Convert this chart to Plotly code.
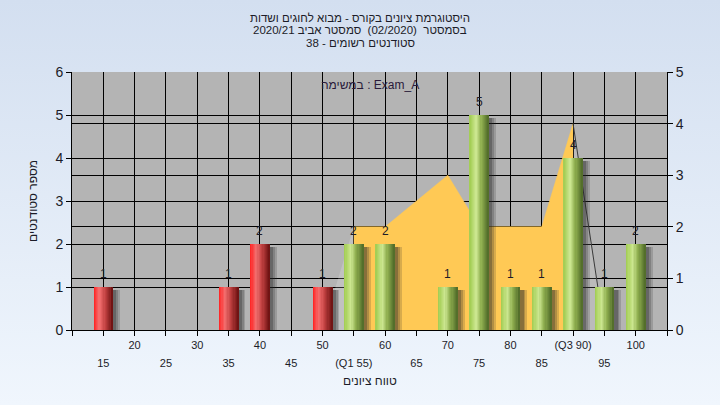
import base64
import plotly.graph_objects as go

# ---------------- data ----------------
categories = [15, 20, 25, 30, 35, 40, 45, 50, 55, 60, 65, 70, 75, 80, 85, 90, 95, 100]
tick_labels = ["15", "20", "25", "30", "35", "40", "45", "50", "(Q1 55)", "60",
               "65", "70", "75", "80", "85", "(Q3 90)", "95", "100"]
counts = [1, 0, 0, 0, 1, 2, 0, 1, 2, 2, 0, 1, 5, 1, 1, 4, 1, 2]
pass_mark = 55
# reference distribution (right axis); None = empty point
ref_area = [None, None, None, None, None, None, None, 0, 2, 2, 2.5, 3, 2, 2, 2, 4, 0, None]

title_lines = [
    "היסטוגרמת ציונים בקורס - מבוא לחוגים ושדות",
    "בסמסטר  (02/2020)  סמסטר אביב 2020/21",
    "סטודנטים רשומים - 38",
]
task_label = "במשימה : Exam_A"
x_title = "טווח ציונים"
y_title = "מספר סטודנטים"

# ---------------- styling ----------------
FONT = "Liberation Sans, DejaVu Sans, sans-serif"
TXT = "#1c1c28"
L, R, T, B = 72, 53, 72, 75
W, H = 720, 405
PW, PH = W - L - R, H - T - B
BAR_W = 3.1
N_STRIPS = 16
RED = [(0.0, (255, 32, 32)), (0.3, (244, 112, 112)), (0.6, (192, 64, 64)), (1.0, (106, 16, 16))]
GREEN = [(0.0, (160, 204, 80)), (0.35, (204, 230, 144)), (0.6, (144, 176, 80)), (1.0, (79, 106, 40))]


def grad(stops, t):
    for (t0, c0), (t1, c1) in zip(stops, stops[1:]):
        if t0 <= t <= t1:
            f = (t - t0) / (t1 - t0)
            c = [round(a + (b - a) * f) for a, b in zip(c0, c1)]
            return "rgb(%d,%d,%d)" % tuple(c)
    return "rgb(%d,%d,%d)" % stops[-1][1]


fig = go.Figure()

# ---- reference area (right axis, base layer) ----
idx = [i for i, v in enumerate(ref_area) if v is not None]
main_idx = [i for i in idx if ref_area[i] > 0]
fig.add_trace(go.Scatter(
    x=[categories[i] for i in main_idx], y=[ref_area[i] for i in main_idx],
    yaxis="y2", mode="lines", fill="tozeroy", fillcolor="#FFC955",
    line=dict(color="#FFC955", width=0.5), hoverinfo="skip", showlegend=False))
# empty-point segments at both ends
first, last = main_idx[0], main_idx[-1]
fig.add_trace(go.Scatter(
    x=[categories[first - 1], categories[first], categories[first]],
    y=[0, ref_area[first], 0], yaxis="y2", mode="lines", fill="toself",
    fillcolor="rgba(255,255,255,0.18)", line=dict(width=0), hoverinfo="skip", showlegend=False))
fig.add_trace(go.Scatter(
    x=[categories[last], categories[last + 1], categories[last]],
    y=[ref_area[last], 0, 0], yaxis="y2", mode="lines", fill="toself",
    fillcolor="rgba(255,255,255,0.10)", line=dict(width=0), hoverinfo="skip", showlegend=False))
fig.add_trace(go.Scatter(
    x=[categories[last], categories[last + 1]], y=[ref_area[last], 0], yaxis="y2",
    mode="lines", line=dict(color="#3a3a3a", width=1), hoverinfo="skip", showlegend=False))

# ---- bar shadows ----
for dx, a in [(1.15, 0.18), (0.85, 0.22), (0.55, 0.30)]:
    fig.add_trace(go.Bar(
        x=categories, y=[max(c - 0.06, 0) for c in counts], width=BAR_W, offset=-BAR_W / 2 + dx,
        marker=dict(color="rgba(40,40,40,%s)" % a, line=dict(width=0)),
        yaxis="y", hoverinfo="skip", showlegend=False))

# ---- bars in gradient strips ----
sw = BAR_W / N_STRIPS
for i in range(N_STRIPS):
    t = (i + 0.5) / N_STRIPS
    off = -BAR_W / 2 + i * sw
    wid = min(sw * 1.8, BAR_W / 2 - off)
    cols = [grad(RED if c < pass_mark else GREEN, t) for c in categories]
    fig.add_trace(go.Bar(
        x=categories, y=counts, width=wid, offset=off,
        marker=dict(color=cols, line=dict(width=0)),
        yaxis="y", hoverinfo="skip", showlegend=False))

# dummy trace for lower label row axis
fig.add_trace(go.Scatter(x=[None], y=[None], xaxis="x2", yaxis="y", showlegend=False))

annotations = []
for c, n in zip(categories, counts):
    if n > 0:
        annotations.append(dict(x=c, y=n, xref="x", yref="y", text=str(n), showarrow=False,
                                yshift=13, font=dict(family=FONT, size=12, color=TXT)))

# title lines (page centred)
for k, line in enumerate(title_lines):
    ypx = 18 + k * 12.5
    annotations.append(dict(x=(360 - L) / PW, y=(T + PH - ypx) / PH, xref="paper", yref="paper",
                            text=line, showarrow=False, xanchor="center", yanchor="middle",
                            font=dict(family=FONT, size=11.5, color=TXT)))
annotations.append(dict(x=0.5, y=(T + PH - 85) / PH, xref="paper", yref="paper", text=task_label,
                        showarrow=False, xanchor="center", yanchor="middle",
                        font=dict(family=FONT, size=12, color="#2a1a3a")))
annotations.append(dict(x=0.5, y=(T + PH - 381) / PH, xref="paper", yref="paper", text=x_title,
                        showarrow=False, xanchor="center", yanchor="middle",
                        font=dict(family=FONT, size=12, color=TXT)))
annotations.append(dict(x=(33 - L) / PW, y=0.5, xref="paper", yref="paper", text=y_title,
                        showarrow=False, textangle=-90, xanchor="center", yanchor="middle",
                        font=dict(family=FONT, size=12, color=TXT)))

# background gradient image (full page)
svg = ('<svg xmlns="http://www.w3.org/2000/svg" width="720" height="405">'
       '<defs><linearGradient id="g" x1="0" y1="0" x2="0" y2="1">'
       '<stop offset="0" stop-color="#d3dff0"/><stop offset="1" stop-color="#f0f6fd"/>'
       '</linearGradient></defs><rect width="720" height="405" fill="url(#g)"/></svg>')
bg_src = "data:image/svg+xml;base64," + base64.b64encode(svg.encode()).decode()

all_ticks = [10] + categories + [105]
upper_text = [""] + [tick_labels[i] if i % 2 == 1 else "" for i in range(len(categories))] + [""]
lower_vals = [c for i, c in enumerate(categories) if i % 2 == 0]
lower_text = [tick_labels[i] for i in range(len(categories)) if i % 2 == 0]

axis_common = dict(showline=True, linecolor="black", linewidth=1, ticks="outside", ticklen=5,
                   tickcolor="black", showgrid=True, gridcolor="black", gridwidth=1, zeroline=False)

fig.update_layout(
    width=W, height=H, margin=dict(l=L, r=R, t=T, b=B),
    paper_bgcolor="#e4edf8", plot_bgcolor="#b4b4b4",
    barmode="overlay", bargap=0, showlegend=False,
    xaxis=dict(range=[10, 105], tickvals=all_ticks, ticktext=upper_text, anchor="y2",
               tickfont=dict(family=FONT, size=11, color=TXT), **axis_common),
    xaxis2=dict(range=[10, 105], overlaying="x", side="bottom", anchor="y2", tickvals=lower_vals,
                ticktext=lower_text, ticks="", showgrid=False, showline=False, zeroline=False,
                ticklabelstandoff=25, tickfont=dict(family=FONT, size=11, color=TXT)),
    yaxis=dict(range=[0, 6], dtick=1, overlaying="y2", side="left",
               tickfont=dict(family=FONT, size=14, color=TXT), **axis_common),
    yaxis2=dict(range=[0, 5], dtick=1, side="right",
                tickfont=dict(family=FONT, size=14, color=TXT), **axis_common),
    annotations=annotations,
    images=[dict(source=bg_src, xref="paper", yref="paper", x=-L / PW, y=(T + PH) / PH,
                 sizex=W / PW, sizey=H / PH, sizing="stretch", xanchor="left", yanchor="top",
                 layer="below")],
    shapes=[dict(type="rect", xref="x domain", yref="y domain", x0=0, x1=1, y0=0, y1=1,
                 fillcolor="#b4b4b4", line=dict(width=0), layer="below")],
)

fig.write_html("out.html", config={"displayModeBar": False},
               post_script="document.body.style.margin='0px';")
